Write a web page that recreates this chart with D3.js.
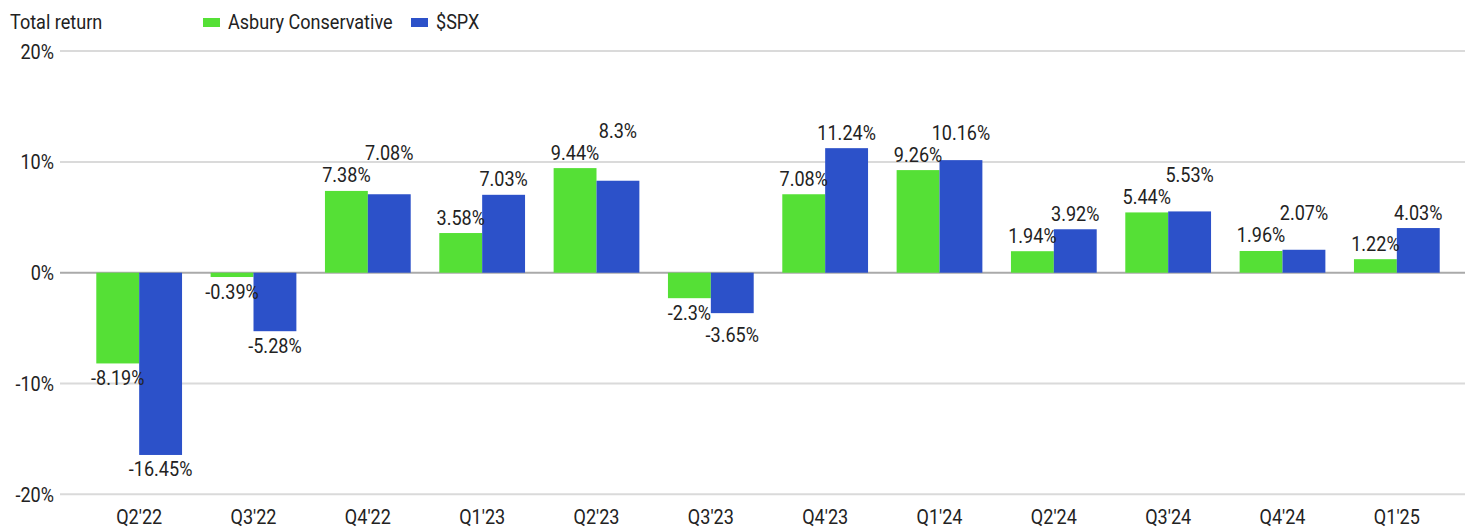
<!DOCTYPE html>
<html>
<head>
<meta charset="utf-8">
<script src="https://cdn.jsdelivr.net/npm/d3@7"></script>
<style>
  body { margin: 0; background: #fff; }
  text { font-family: Roboto, "Noto Sans", sans-serif; fill: #222; font-size: 21px; }
</style>
</head>
<body>
<svg id="chart" width="1465" height="529"></svg>
<script>
var categories = ["Q2'22", "Q3'22", "Q4'22", "Q1'23", "Q2'23", "Q3'23", "Q4'23", "Q1'24", "Q2'24", "Q3'24", "Q4'24", "Q1'25"];
var asbury = [-8.19, -0.39, 7.38, 3.58, 9.44, -2.3, 7.08, 9.26, 1.94, 5.44, 1.96, 1.22];
var spx = [-16.45, -5.28, 7.08, 7.03, 8.3, -3.65, 11.24, 10.16, 3.92, 5.53, 2.07, 4.03];
var seriesNames = ['Asbury Conservative', '$SPX'];
var yTicks = [-20, -10, 0, 10, 20];

var colors = ['#55e036', '#2c51c9'];
var SQ = 0.86; // squeeze roboto into a condensed look

var svg = d3.select('#chart');

// place text at (px,py) with a horizontal squeeze
function put(sel, px, py){
  sel.attr('transform', function(d, i){
    return 'translate(' + px(d, i) + ',' + py(d, i) + ') scale(' + SQ + ',1)';
  });
  return sel;
}

var x = d3.scaleBand()
  .domain(categories)
  .range([82, 1454])
  .paddingInner(0.25)
  .paddingOuter(0.125);

var xs = d3.scaleBand()
  .domain([0, 1])
  .range([0, x.bandwidth()]);

var y = d3.scaleLinear()
  .domain([-20, 20])
  .range([494.3, 51.1]);

// gridlines + y labels
var grid = svg.append('g');
grid.selectAll('line')
  .data(yTicks)
  .enter().append('line')
  .attr('x1', 60).attr('x2', 1465)
  .attr('y1', function(d){ return y(d); })
  .attr('y2', function(d){ return y(d); })
  .attr('stroke', function(d){ return d === 0 ? '#aaaaaa' : '#dadada'; })
  .attr('stroke-width', 2);

put(grid.selectAll('text')
  .data(yTicks)
  .enter().append('text')
  .attr('text-anchor', 'end')
  .text(function(d){ return d + '%'; }),
  function(){ return 54; }, function(d){ return y(d) + 7.5; });

// bars
var rows = categories.map(function(c, i){ return { cat: c, vals: [asbury[i], spx[i]] }; });

var groups = svg.selectAll('.grp')
  .data(rows)
  .enter().append('g')
  .attr('class', 'grp')
  .attr('transform', function(d){ return 'translate(' + x(d.cat) + ',0)'; });

groups.selectAll('rect')
  .data(function(d){ return d.vals; })
  .enter().append('rect')
  .attr('x', function(d, i){ return xs(i); })
  .attr('width', xs.bandwidth())
  .attr('y', function(d){ return y(Math.max(0, d)); })
  .attr('height', function(d){ return Math.abs(y(d) - y(0)); })
  .attr('fill', function(d, i){ return colors[i]; });

// value labels; second series is pushed out past the first when they collide
groups.each(function(row){
  var g = d3.select(this);
  var cy = row.vals.map(function(v){
    return v >= 0 ? y(v) - 16 : y(v) + 14;
  });
  if (Math.abs(cy[1] - cy[0]) < 19) {
    cy[1] = row.vals[1] >= 0 ? cy[0] - 22 : cy[0] + 22;
  }
  put(g.selectAll('text')
    .data(row.vals)
    .enter().append('text')
    .attr('text-anchor', 'middle')
    .text(function(v){ return v + '%'; }),
    function(v, i){ return xs(i) + xs.bandwidth() / 2; },
    function(v, i){ return cy[i] + 7.5; });
});

// x axis labels
put(svg.append('g').selectAll('text')
  .data(categories)
  .enter().append('text')
  .attr('text-anchor', 'middle')
  .text(function(d){ return d; }),
  function(d){ return x(d) + x.bandwidth() / 2; }, function(){ return 524; });

// title + legend
put(svg.append('text').datum(0).text('Total return'),
  function(){ return 10; }, function(){ return 29; });

var legX = [203, 411];
var leg = svg.selectAll('.leg')
  .data(seriesNames)
  .enter().append('g')
  .attr('class', 'leg')
  .attr('transform', function(d, i){ return 'translate(' + legX[i] + ',0)'; });
leg.append('rect')
  .attr('x', 0).attr('y', 18)
  .attr('width', 17).attr('height', 9)
  .attr('fill', function(d, i){ return colors[i]; });
put(leg.append('text')
  .text(function(d){ return d; }),
  function(){ return 25; }, function(){ return 29; });
</script>
</body>
</html>
